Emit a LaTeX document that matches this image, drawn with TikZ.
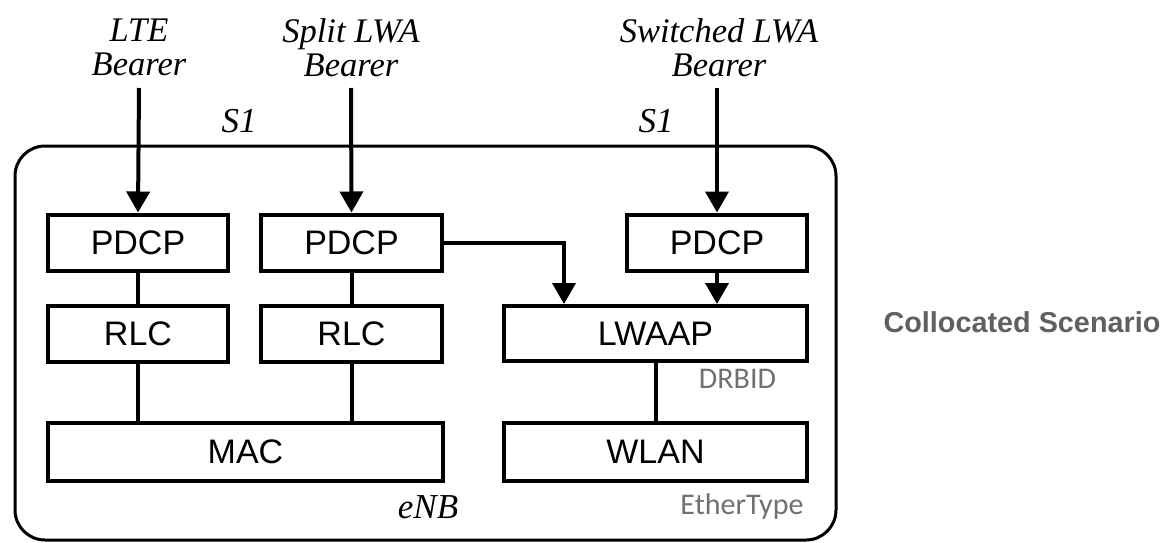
\documentclass[tikz,border=0pt]{standalone}
\usepackage{fontspec}
\setmainfont{Liberation Serif}
\setsansfont{Liberation Sans}
\newfontfamily\calfont{Carlito}
\usetikzlibrary{arrows.meta}
\definecolor{notegray}{RGB}{112,112,112}
\definecolor{titlegray}{RGB}{96,96,96}
\tikzset{
  layer/.style={draw, line width=4pt, inner sep=0pt, minimum height=56pt,
    font=\sffamily\fontsize{34}{34}\selectfont},
  bearer/.style={inner sep=0pt, align=center, anchor=north,
    font=\itshape\fontsize{34.5}{34}\selectfont},
  iflabel/.style={inner sep=0pt, anchor=base, font=\itshape\fontsize{35}{35}\selectfont},
  note/.style={inner sep=0pt, text=notegray, font=\calfont\fontsize{30}{30}\selectfont},
  flow/.style={line width=4pt, -{Triangle[width=23pt,length=21pt]}},
  link/.style={line width=4pt}
}
\begin{document}
\begin{tikzpicture}[x=1pt,y=-1pt]
\useasboundingbox (0,0) rectangle (1168,543);

% eNB enclosure
\draw[line width=3pt, rounded corners=30pt] (15,146) rectangle (836,540);

% LTE stack
\node[layer, minimum width=180pt] (pdcp1) at (138,242.5) {PDCP};
\node[layer, minimum width=180pt] (rlc1) at (138,334) {RLC};
% split LWA stack
\node[layer, minimum width=181pt] (pdcp2) at (351.5,242.5) {PDCP};
\node[layer, minimum width=181pt] (rlc2) at (351.5,334) {RLC};
\node[layer, minimum width=395pt, minimum height=58pt] (mac) at (245.5,452) {MAC};
% switched LWA stack
\node[layer, minimum width=180pt] (pdcp3) at (717,242.5) {PDCP};
\node[layer, minimum width=303pt, minimum height=55pt] (lwaap) at (655.5,333.5) {LWAAP};
\node[layer, minimum width=303pt, minimum height=58pt] (wlan) at (655.5,452) {WLAN};

% bearers entering over S1
\node[bearer] (lte) at (139,18.5) {LTE\\Bearer};
\node[bearer] (split) at (351,18.5) {Split LWA\\Bearer};
\node[bearer] (switched) at (719,18.5) {Switched LWA\\Bearer};
\coordinate (lteIn) at (139,88);
\coordinate (splitIn) at (351,88);
\coordinate (switchedIn) at (717,88);
\draw[flow] (lteIn) -- (pdcp1.north);
\draw[flow] (splitIn) -- (pdcp2.north);
\draw[flow] (switchedIn) -- (pdcp3.north);

\node[iflabel] (s1a) at (239,132) {S1};
\node[iflabel] (s1b) at (656,132) {S1};

% internal links
\draw[link] (pdcp1) -- (rlc1);
\draw[link] (pdcp2) -- (rlc2);
\draw[link] (rlc1.south) -- (rlc1.south |- mac.north);
\draw[link] (rlc2.south) -- (rlc2.south |- mac.north);
\coordinate (splitTurn) at (564,242.5);
\draw[flow] (pdcp2.east) -- (splitTurn) -- (splitTurn |- lwaap.north);
\draw[flow] (pdcp3.south) -- (pdcp3.south |- lwaap.north);
\draw[link] (lwaap) -- (wlan);

% annotations
\node[note] (drbid) at (737.5,379) {DRBID};
\node[note] (ethertype) at (742,506) {EtherType};
\node[iflabel] (enb) at (428,518) {eNB};
\node[inner sep=0pt, text=titlegray, font=\sffamily\bfseries\fontsize{28.8}{28.8}\selectfont]
  (scenario) at (1022,322) {Collocated Scenario};
\end{tikzpicture}
\end{document}
